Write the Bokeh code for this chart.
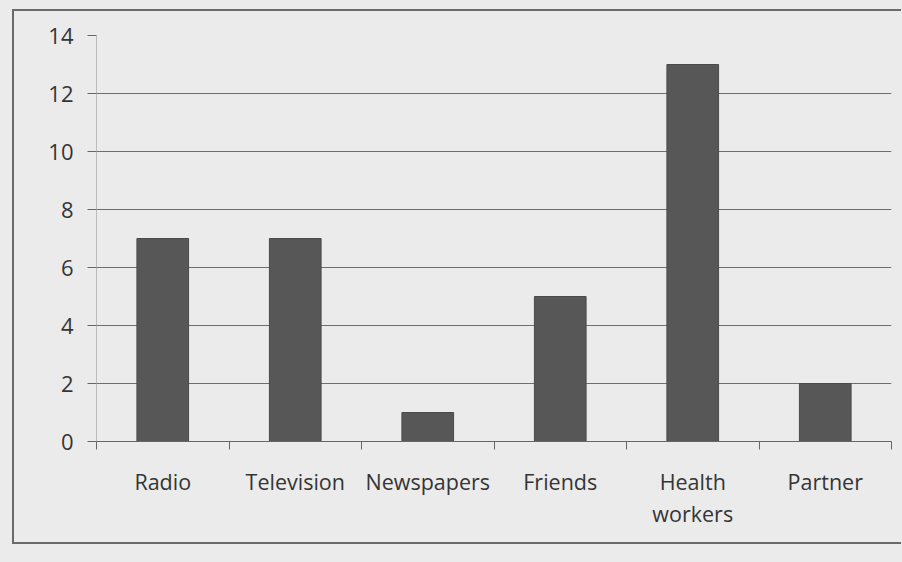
from bokeh.plotting import figure
from bokeh.models import FixedTicker, Range1d, ColumnDataSource
from bokeh.layouts import column
from bokeh.embed import file_html
from bokeh.resources import INLINE

categories = ["Radio", "Television", "Newspapers", "Friends", "Health workers", "Partner"]
counts = [7, 7, 1, 5, 13, 2]
y_ticks = [0, 2, 4, 6, 8, 10, 12, 14]

xs = [i + 0.5 for i in range(len(categories))]
src = ColumnDataSource(dict(x=xs, top=counts))

BG = "#ebebeb"
TXT = "#353535"

p = figure(width=889, height=535, output_backend="svg", toolbar_location=None,
           x_range=Range1d(0, len(categories)), y_range=Range1d(0, 14),
           min_border_left=82, min_border_right=12, min_border_top=24, min_border_bottom=105,
           background_fill_color=BG, border_fill_color=BG, outline_line_color=None)

p.vbar(x="x", top="top", width=0.39, source=src, fill_color="#575757", line_color="#4a4a4a")

# y axis
p.yaxis.ticker = FixedTicker(ticks=y_ticks)
p.yaxis.axis_line_color = "#8a8a8a"
p.yaxis.axis_line_dash = "1 1"
p.yaxis.major_tick_in = 0
p.yaxis.major_tick_out = 9
p.yaxis.major_tick_line_color = "#666666"
p.yaxis.minor_tick_line_color = None
p.yaxis.major_label_text_font = "Open Sans"
p.yaxis.major_label_text_font_size = "22px"
p.yaxis.major_label_text_color = TXT
p.yaxis.major_label_standoff = 14

# x axis
p.xaxis.ticker = FixedTicker(ticks=xs, minor_ticks=list(range(len(categories) + 1)))
p.xaxis.major_label_overrides = {x: c.replace(" ", "\n") for x, c in zip(xs, categories)}
p.xaxis.major_tick_line_color = None
p.xaxis.minor_tick_in = 0
p.xaxis.minor_tick_out = 8
p.xaxis.minor_tick_line_color = "#666666"
p.xaxis.axis_line_color = "#666666"
p.xaxis.major_label_text_font = "Open Sans"
p.xaxis.major_label_text_font_size = "21.5px"
p.xaxis.major_label_text_color = TXT
p.xaxis.major_label_text_line_height = 1.12
p.xaxis.major_label_standoff = 17

p.xgrid.grid_line_color = None
p.ygrid.ticker = FixedTicker(ticks=y_ticks)
p.ygrid.grid_line_color = "#6e6e6e"
p.ygrid.grid_line_width = 1

p.styles = {"border-top": "2px solid #6a6a6a", "border-left": "2px solid #6a6a6a",
            "border-bottom": "2px solid #6a6a6a", "box-sizing": "border-box"}

layout = column(p, width=902, height=562,
                styles={"background-color": BG, "padding-left": "12px", "padding-top": "9px"})

open("out.html", "w").write(file_html(layout, INLINE))
